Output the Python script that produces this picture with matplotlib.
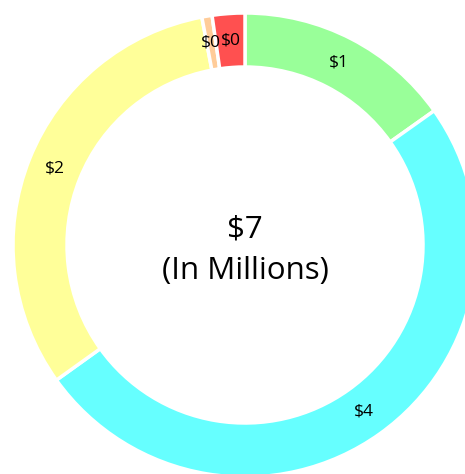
import matplotlib.pyplot as plt

# spending by category, in millions
categories = ['A', 'B', 'C', 'D', 'E']
values = [1.07, 3.52, 2.25, 0.05, 0.16]
colors = ['#99FF99', '#66FFFF', '#FFFF99', '#FFCC99', '#FF5050']

total = sum(values)

plt.rcParams['font.family'] = ['Open Sans', 'DejaVu Sans']

fig = plt.figure(figsize=(4.65, 4.74), dpi=100)
ax = fig.add_axes([0, 0, 1, 1])

ring_radius = 232
ring_width = 54


def money_label(pct):
    return '${:.0f}'.format(pct * total / 100)


wedges, texts = ax.pie(values, colors=colors, radius=ring_radius,
                       startangle=90, counterclock=False,
                       wedgeprops=dict(width=ring_width, edgecolor='white', linewidth=2.5),
                       autopct=money_label, pctdistance=0.884,
                       textprops=dict(fontsize=12.5, color='black'))[:2]

ax.text(0, 15, '${:.0f}'.format(total), ha='center', va='center', fontsize=22.5)
ax.text(0, -26, '(In Millions)', ha='center', va='center', fontsize=22.5)

ax.set_xlim(-245, 220)
ax.set_ylim(-229, 245)
ax.set_aspect('equal')
ax.axis('off')

plt.savefig('out.png', dpi=100)
